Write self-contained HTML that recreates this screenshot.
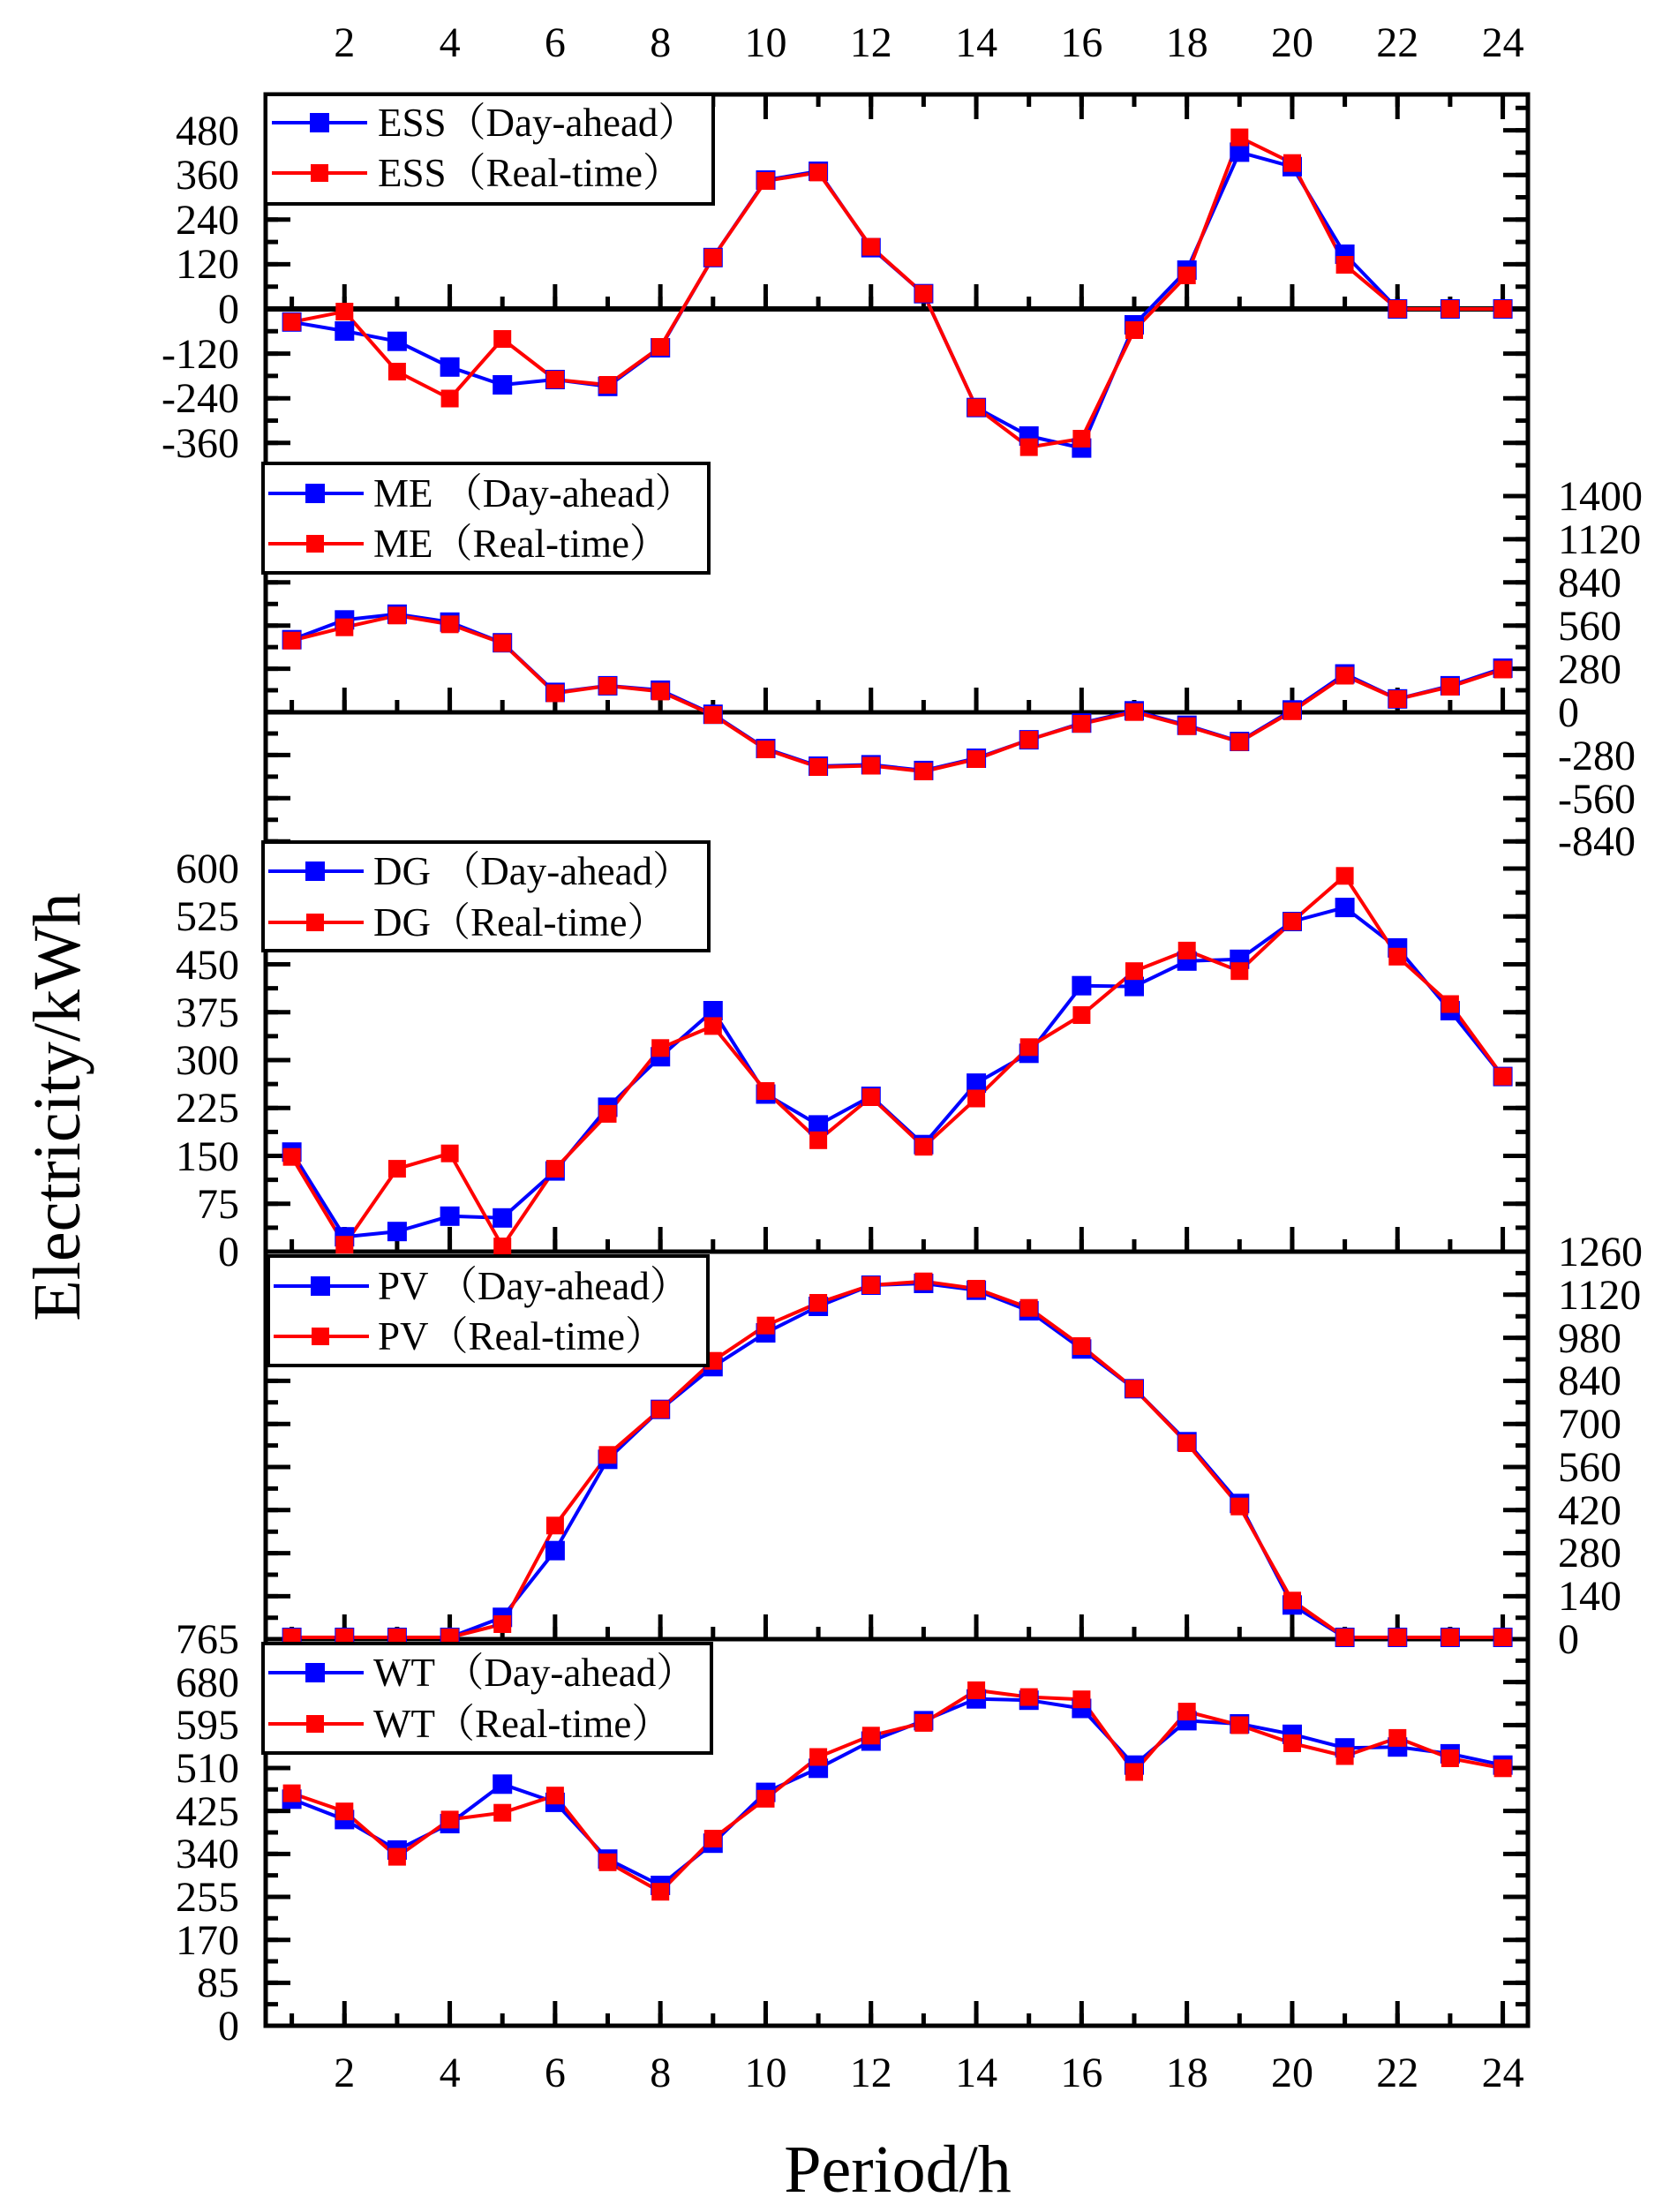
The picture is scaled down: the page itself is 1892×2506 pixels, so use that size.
<!DOCTYPE html>
<html><head><meta charset="utf-8"><style>
html,body{margin:0;padding:0;background:#fff;}
svg{display:block;}
text{font-family:"Liberation Serif","Noto Serif CJK SC",serif;fill:#000;}
</style></head><body>
<svg width="1892" height="2506" viewBox="0 0 1892 2506" xmlns="http://www.w3.org/2000/svg">
<defs>
<rect id="b" x="-11" y="-11" width="22" height="22" fill="#0000ff"/>
<rect id="r" x="-10" y="-10" width="20" height="20" fill="#ff0000"/>
</defs>
<rect x="0" y="0" width="1892" height="2506" fill="#fff"/>

<!-- y ticks left (x=301) and right (x=1731) -->
<g stroke="#000" fill="none">
<!-- ESS -->
<line x1="308" y1="119.8" x2="308" y2="529.6" stroke-width="14" stroke-dasharray="5 20.3"/>
<line x1="315" y1="145.1" x2="315" y2="504.3" stroke-width="28" stroke-dasharray="5 45.6"/>
<line x1="1724" y1="119.8" x2="1724" y2="529.6" stroke-width="14" stroke-dasharray="5 20.3"/>
<line x1="1717" y1="145.1" x2="1717" y2="504.3" stroke-width="28" stroke-dasharray="5 45.6"/>
<!-- ME -->
<line x1="308" y1="559.5" x2="308" y2="955.9" stroke-width="14" stroke-dasharray="5 19.45"/>
<line x1="315" y1="559.5" x2="315" y2="955.9" stroke-width="28" stroke-dasharray="5 43.9"/>
<line x1="1724" y1="559.5" x2="1724" y2="955.9" stroke-width="14" stroke-dasharray="5 19.45"/>
<line x1="1717" y1="559.5" x2="1717" y2="955.9" stroke-width="28" stroke-dasharray="5 43.9"/>
<!-- DG -->
<line x1="308" y1="981.5" x2="308" y2="1420.5" stroke-width="14" stroke-dasharray="5 22.125"/>
<line x1="315" y1="981.5" x2="315" y2="1420.5" stroke-width="28" stroke-dasharray="5 49.25"/>
<line x1="1724" y1="981.5" x2="1724" y2="1420.5" stroke-width="14" stroke-dasharray="5 22.125"/>
<line x1="1717" y1="981.5" x2="1717" y2="1420.5" stroke-width="28" stroke-dasharray="5 49.25"/>
<!-- PV -->
<line x1="308" y1="1415.5" x2="308" y2="1859.5" stroke-width="14" stroke-dasharray="5 19.4"/>
<line x1="315" y1="1415.5" x2="315" y2="1859.5" stroke-width="28" stroke-dasharray="5 43.8"/>
<line x1="1724" y1="1415.5" x2="1724" y2="1859.5" stroke-width="14" stroke-dasharray="5 19.4"/>
<line x1="1717" y1="1415.5" x2="1717" y2="1859.5" stroke-width="28" stroke-dasharray="5 43.8"/>
<!-- WT -->
<line x1="308" y1="1854.5" x2="308" y2="2297.5" stroke-width="14" stroke-dasharray="5 19.33"/>
<line x1="315" y1="1854.5" x2="315" y2="2297.5" stroke-width="28" stroke-dasharray="5 43.67"/>
<line x1="1724" y1="1854.5" x2="1724" y2="2297.5" stroke-width="14" stroke-dasharray="5 19.33"/>
<line x1="1717" y1="1854.5" x2="1717" y2="2297.5" stroke-width="28" stroke-dasharray="5 43.67"/>

<!-- x ticks -->
<line x1="328.1" y1="114" x2="1706" y2="114" stroke-width="14" stroke-dasharray="5 54.65"/>
<line x1="387.75" y1="121" x2="1706" y2="121" stroke-width="28" stroke-dasharray="5 114.3"/>
<line x1="328.1" y1="343" x2="1706" y2="343" stroke-width="14" stroke-dasharray="5 54.65"/>
<line x1="387.75" y1="336" x2="1706" y2="336" stroke-width="28" stroke-dasharray="5 114.3"/>
<line x1="328.1" y1="800" x2="1706" y2="800" stroke-width="14" stroke-dasharray="5 54.65"/>
<line x1="387.75" y1="793" x2="1706" y2="793" stroke-width="28" stroke-dasharray="5 114.3"/>
<line x1="328.1" y1="1411" x2="1706" y2="1411" stroke-width="14" stroke-dasharray="5 54.65"/>
<line x1="387.75" y1="1404" x2="1706" y2="1404" stroke-width="28" stroke-dasharray="5 114.3"/>
<line x1="328.1" y1="1850" x2="1706" y2="1850" stroke-width="14" stroke-dasharray="5 54.65"/>
<line x1="387.75" y1="1843" x2="1706" y2="1843" stroke-width="28" stroke-dasharray="5 114.3"/>
<line x1="328.1" y1="2288" x2="1706" y2="2288" stroke-width="14" stroke-dasharray="5 54.65"/>
<line x1="387.75" y1="2281" x2="1706" y2="2281" stroke-width="28" stroke-dasharray="5 114.3"/>

<!-- frame & axis lines -->
<rect x="301" y="107" width="1430" height="2188" stroke-width="5"/>
<line x1="301" y1="350" x2="1731" y2="350" stroke-width="6"/>
<line x1="301" y1="807" x2="1731" y2="807" stroke-width="5"/>
<line x1="301" y1="1418" x2="1731" y2="1418" stroke-width="5"/>
<line x1="301" y1="1857" x2="1731" y2="1857" stroke-width="5"/>
</g>

<!-- series -->
<g fill="none" stroke-width="4" stroke-linejoin="round">
<!-- ESS -->
<polyline stroke="#0000ff" points="330.6,364.8 390.3,375 449.9,386.7 509.6,415.8 569.2,436 628.9,430 688.5,437.8 748.2,394 807.8,291.8 867.5,204 927.1,194 986.8,280.6 1046.4,332.7 1106.1,461.7 1165.7,494 1225.4,507.6 1285,368 1344.7,306 1404.3,172.4 1464,188.8 1523.6,288 1583.3,350 1642.9,350 1702.6,350"/>
<polyline stroke="#ff0000" points="330.6,364.8 390.3,353 449.9,421 509.6,451.5 569.2,384 628.9,430 688.5,436 748.2,393 807.8,291.8 867.5,205 927.1,195.4 986.8,279.6 1046.4,332.7 1106.1,461.7 1165.7,506.6 1225.4,497 1285,374 1344.7,312 1404.3,155.6 1464,184.7 1523.6,300 1583.3,350 1642.9,350 1702.6,350"/>
<!-- ME -->
<polyline stroke="#0000ff" points="330.6,724.7 390.3,702.3 449.9,695.8 509.6,704.8 569.2,728.2 628.9,784.4 688.5,776.9 748.2,781.9 807.8,809.2 867.5,848 927.1,868 986.8,866.4 1046.4,872.9 1106.1,859 1165.7,838.1 1225.4,819.2 1285,805.3 1344.7,821.7 1404.3,840 1464,804.3 1523.6,763.5 1583.3,791.8 1642.9,776.9 1702.6,757"/>
<polyline stroke="#ff0000" points="330.6,725.7 390.3,710.7 449.9,697.3 509.6,707.3 569.2,728.6 628.9,785.4 688.5,777 748.2,783.4 807.8,810 867.5,849 927.1,869 986.8,867.5 1046.4,874 1106.1,860 1165.7,838.1 1225.4,820 1285,806.7 1344.7,822.7 1404.3,840.6 1464,805.8 1523.6,765.5 1583.3,792 1642.9,778 1702.6,758.5"/>
<!-- DG -->
<polyline stroke="#0000ff" points="330.6,1305.2 390.3,1401.2 449.9,1395.2 509.6,1377.8 569.2,1379.8 628.9,1326.6 688.5,1254.4 748.2,1197.2 807.8,1145 867.5,1239.5 927.1,1274.4 986.8,1242 1046.4,1296.7 1106.1,1227.1 1165.7,1193.3 1225.4,1116.7 1285,1117.6 1344.7,1088.8 1404.3,1086.8 1464,1044 1523.6,1028.1 1583.3,1073.9 1642.9,1145 1702.6,1219.6"/>
<polyline stroke="#ff0000" points="330.6,1310.7 390.3,1410.2 449.9,1324.1 509.6,1306.7 569.2,1412.1 628.9,1324.1 688.5,1261.9 748.2,1187.3 807.8,1162.4 867.5,1236 927.1,1291.8 986.8,1243 1046.4,1299.2 1106.1,1244.5 1165.7,1186.3 1225.4,1150 1285,1100.2 1344.7,1076.9 1404.3,1100.2 1464,1044 1523.6,992.3 1583.3,1083.8 1642.9,1137.5 1702.6,1219.6"/>
<!-- PV -->
<polyline stroke="#0000ff" points="330.6,1855 390.3,1855 449.9,1855 509.6,1855 569.2,1832.3 628.9,1756.7 688.5,1653.3 748.2,1596.7 807.8,1548.3 867.5,1510 927.1,1480 986.8,1456 1046.4,1454 1106.1,1461.7 1165.7,1485 1225.4,1528.3 1285,1573.3 1344.7,1633.3 1404.3,1703.3 1464,1818.3 1523.6,1855 1583.3,1855 1642.9,1855 1702.6,1855"/>
<polyline stroke="#ff0000" points="330.6,1855 390.3,1855 449.9,1855 509.6,1855 569.2,1840 628.9,1728.3 688.5,1648.3 748.2,1596.7 807.8,1541.7 867.5,1501.7 927.1,1476 986.8,1456 1046.4,1451.7 1106.1,1460 1165.7,1481.7 1225.4,1525 1285,1573.3 1344.7,1635 1404.3,1706.7 1464,1813.3 1523.6,1855 1583.3,1855 1642.9,1855 1702.6,1855"/>
<!-- WT -->
<polyline stroke="#0000ff" points="330.6,2038.3 390.3,2061.4 449.9,2095.9 509.6,2066 569.2,2021.3 628.9,2041.9 688.5,2106.2 748.2,2136 807.8,2088.2 867.5,2030.6 927.1,2003.3 986.8,1972.5 1046.4,1949.4 1106.1,1924.7 1165.7,1926.2 1225.4,1935.5 1285,1999.7 1344.7,1949.4 1404.3,1953 1464,1964.8 1523.6,1980.2 1583.3,1979.2 1642.9,1986.9 1702.6,1999.7"/>
<polyline stroke="#ff0000" points="330.6,2031.6 390.3,2052.2 449.9,2103.6 509.6,2061.4 569.2,2053.7 628.9,2034.2 688.5,2109.8 748.2,2143.2 807.8,2083 867.5,2037.8 927.1,1990.5 986.8,1966.3 1046.4,1951.9 1106.1,1914.9 1165.7,1922.6 1225.4,1925.2 1285,2007.5 1344.7,1939.1 1404.3,1954.5 1464,1975 1523.6,1989.5 1583.3,1968.9 1642.9,1992 1702.6,2003.3"/>
</g>

<!-- markers blue -->
<g>
<use href="#b" x="330.6" y="364.8"/><use href="#b" x="390.3" y="375"/><use href="#b" x="449.9" y="386.7"/><use href="#b" x="509.6" y="415.8"/><use href="#b" x="569.2" y="436"/><use href="#b" x="628.9" y="430"/><use href="#b" x="688.5" y="437.8"/><use href="#b" x="748.2" y="394"/><use href="#b" x="807.8" y="291.8"/><use href="#b" x="867.5" y="204"/><use href="#b" x="927.1" y="194"/><use href="#b" x="986.8" y="280.6"/><use href="#b" x="1046.4" y="332.7"/><use href="#b" x="1106.1" y="461.7"/><use href="#b" x="1165.7" y="494"/><use href="#b" x="1225.4" y="507.6"/><use href="#b" x="1285" y="368"/><use href="#b" x="1344.7" y="306"/><use href="#b" x="1404.3" y="172.4"/><use href="#b" x="1464" y="188.8"/><use href="#b" x="1523.6" y="288"/><use href="#b" x="1583.3" y="350"/><use href="#b" x="1642.9" y="350"/><use href="#b" x="1702.6" y="350"/>

<use href="#b" x="330.6" y="724.7"/><use href="#b" x="390.3" y="702.3"/><use href="#b" x="449.9" y="695.8"/><use href="#b" x="509.6" y="704.8"/><use href="#b" x="569.2" y="728.2"/><use href="#b" x="628.9" y="784.4"/><use href="#b" x="688.5" y="776.9"/><use href="#b" x="748.2" y="781.9"/><use href="#b" x="807.8" y="809.2"/><use href="#b" x="867.5" y="848"/><use href="#b" x="927.1" y="868"/><use href="#b" x="986.8" y="866.4"/><use href="#b" x="1046.4" y="872.9"/><use href="#b" x="1106.1" y="859"/><use href="#b" x="1165.7" y="838.1"/><use href="#b" x="1225.4" y="819.2"/><use href="#b" x="1285" y="805.3"/><use href="#b" x="1344.7" y="821.7"/><use href="#b" x="1404.3" y="840"/><use href="#b" x="1464" y="804.3"/><use href="#b" x="1523.6" y="763.5"/><use href="#b" x="1583.3" y="791.8"/><use href="#b" x="1642.9" y="776.9"/><use href="#b" x="1702.6" y="757"/>

<use href="#b" x="330.6" y="1305.2"/><use href="#b" x="390.3" y="1401.2"/><use href="#b" x="449.9" y="1395.2"/><use href="#b" x="509.6" y="1377.8"/><use href="#b" x="569.2" y="1379.8"/><use href="#b" x="628.9" y="1326.6"/><use href="#b" x="688.5" y="1254.4"/><use href="#b" x="748.2" y="1197.2"/><use href="#b" x="807.8" y="1145"/><use href="#b" x="867.5" y="1239.5"/><use href="#b" x="927.1" y="1274.4"/><use href="#b" x="986.8" y="1242"/><use href="#b" x="1046.4" y="1296.7"/><use href="#b" x="1106.1" y="1227.1"/><use href="#b" x="1165.7" y="1193.3"/><use href="#b" x="1225.4" y="1116.7"/><use href="#b" x="1285" y="1117.6"/><use href="#b" x="1344.7" y="1088.8"/><use href="#b" x="1404.3" y="1086.8"/><use href="#b" x="1464" y="1044"/><use href="#b" x="1523.6" y="1028.1"/><use href="#b" x="1583.3" y="1073.9"/><use href="#b" x="1642.9" y="1145"/><use href="#b" x="1702.6" y="1219.6"/>

<use href="#b" x="330.6" y="1855"/><use href="#b" x="390.3" y="1855"/><use href="#b" x="449.9" y="1855"/><use href="#b" x="509.6" y="1855"/><use href="#b" x="569.2" y="1832.3"/><use href="#b" x="628.9" y="1756.7"/><use href="#b" x="688.5" y="1653.3"/><use href="#b" x="748.2" y="1596.7"/><use href="#b" x="807.8" y="1548.3"/><use href="#b" x="867.5" y="1510"/><use href="#b" x="927.1" y="1480"/><use href="#b" x="986.8" y="1456"/><use href="#b" x="1046.4" y="1454"/><use href="#b" x="1106.1" y="1461.7"/><use href="#b" x="1165.7" y="1485"/><use href="#b" x="1225.4" y="1528.3"/><use href="#b" x="1285" y="1573.3"/><use href="#b" x="1344.7" y="1633.3"/><use href="#b" x="1404.3" y="1703.3"/><use href="#b" x="1464" y="1818.3"/><use href="#b" x="1523.6" y="1855"/><use href="#b" x="1583.3" y="1855"/><use href="#b" x="1642.9" y="1855"/><use href="#b" x="1702.6" y="1855"/>

<use href="#b" x="330.6" y="2038.3"/><use href="#b" x="390.3" y="2061.4"/><use href="#b" x="449.9" y="2095.9"/><use href="#b" x="509.6" y="2066"/><use href="#b" x="569.2" y="2021.3"/><use href="#b" x="628.9" y="2041.9"/><use href="#b" x="688.5" y="2106.2"/><use href="#b" x="748.2" y="2136"/><use href="#b" x="807.8" y="2088.2"/><use href="#b" x="867.5" y="2030.6"/><use href="#b" x="927.1" y="2003.3"/><use href="#b" x="986.8" y="1972.5"/><use href="#b" x="1046.4" y="1949.4"/><use href="#b" x="1106.1" y="1924.7"/><use href="#b" x="1165.7" y="1926.2"/><use href="#b" x="1225.4" y="1935.5"/><use href="#b" x="1285" y="1999.7"/><use href="#b" x="1344.7" y="1949.4"/><use href="#b" x="1404.3" y="1953"/><use href="#b" x="1464" y="1964.8"/><use href="#b" x="1523.6" y="1980.2"/><use href="#b" x="1583.3" y="1979.2"/><use href="#b" x="1642.9" y="1986.9"/><use href="#b" x="1702.6" y="1999.7"/>
</g>
<!-- markers red -->
<g>
<use href="#r" x="330.6" y="364.8"/><use href="#r" x="390.3" y="353"/><use href="#r" x="449.9" y="421"/><use href="#r" x="509.6" y="451.5"/><use href="#r" x="569.2" y="384"/><use href="#r" x="628.9" y="430"/><use href="#r" x="688.5" y="436"/><use href="#r" x="748.2" y="393"/><use href="#r" x="807.8" y="291.8"/><use href="#r" x="867.5" y="205"/><use href="#r" x="927.1" y="195.4"/><use href="#r" x="986.8" y="279.6"/><use href="#r" x="1046.4" y="332.7"/><use href="#r" x="1106.1" y="461.7"/><use href="#r" x="1165.7" y="506.6"/><use href="#r" x="1225.4" y="497"/><use href="#r" x="1285" y="374"/><use href="#r" x="1344.7" y="312"/><use href="#r" x="1404.3" y="155.6"/><use href="#r" x="1464" y="184.7"/><use href="#r" x="1523.6" y="300"/><use href="#r" x="1583.3" y="350"/><use href="#r" x="1642.9" y="350"/><use href="#r" x="1702.6" y="350"/>

<use href="#r" x="330.6" y="725.7"/><use href="#r" x="390.3" y="710.7"/><use href="#r" x="449.9" y="697.3"/><use href="#r" x="509.6" y="707.3"/><use href="#r" x="569.2" y="728.6"/><use href="#r" x="628.9" y="785.4"/><use href="#r" x="688.5" y="777"/><use href="#r" x="748.2" y="783.4"/><use href="#r" x="807.8" y="810"/><use href="#r" x="867.5" y="849"/><use href="#r" x="927.1" y="869"/><use href="#r" x="986.8" y="867.5"/><use href="#r" x="1046.4" y="874"/><use href="#r" x="1106.1" y="860"/><use href="#r" x="1165.7" y="838.1"/><use href="#r" x="1225.4" y="820"/><use href="#r" x="1285" y="806.7"/><use href="#r" x="1344.7" y="822.7"/><use href="#r" x="1404.3" y="840.6"/><use href="#r" x="1464" y="805.8"/><use href="#r" x="1523.6" y="765.5"/><use href="#r" x="1583.3" y="792"/><use href="#r" x="1642.9" y="778"/><use href="#r" x="1702.6" y="758.5"/>

<use href="#r" x="330.6" y="1310.7"/><use href="#r" x="390.3" y="1410.2"/><use href="#r" x="449.9" y="1324.1"/><use href="#r" x="509.6" y="1306.7"/><use href="#r" x="569.2" y="1412.1"/><use href="#r" x="628.9" y="1324.1"/><use href="#r" x="688.5" y="1261.9"/><use href="#r" x="748.2" y="1187.3"/><use href="#r" x="807.8" y="1162.4"/><use href="#r" x="867.5" y="1236"/><use href="#r" x="927.1" y="1291.8"/><use href="#r" x="986.8" y="1243"/><use href="#r" x="1046.4" y="1299.2"/><use href="#r" x="1106.1" y="1244.5"/><use href="#r" x="1165.7" y="1186.3"/><use href="#r" x="1225.4" y="1150"/><use href="#r" x="1285" y="1100.2"/><use href="#r" x="1344.7" y="1076.9"/><use href="#r" x="1404.3" y="1100.2"/><use href="#r" x="1464" y="1044"/><use href="#r" x="1523.6" y="992.3"/><use href="#r" x="1583.3" y="1083.8"/><use href="#r" x="1642.9" y="1137.5"/><use href="#r" x="1702.6" y="1219.6"/>

<use href="#r" x="330.6" y="1855"/><use href="#r" x="390.3" y="1855"/><use href="#r" x="449.9" y="1855"/><use href="#r" x="509.6" y="1855"/><use href="#r" x="569.2" y="1840"/><use href="#r" x="628.9" y="1728.3"/><use href="#r" x="688.5" y="1648.3"/><use href="#r" x="748.2" y="1596.7"/><use href="#r" x="807.8" y="1541.7"/><use href="#r" x="867.5" y="1501.7"/><use href="#r" x="927.1" y="1476"/><use href="#r" x="986.8" y="1456"/><use href="#r" x="1046.4" y="1451.7"/><use href="#r" x="1106.1" y="1460"/><use href="#r" x="1165.7" y="1481.7"/><use href="#r" x="1225.4" y="1525"/><use href="#r" x="1285" y="1573.3"/><use href="#r" x="1344.7" y="1635"/><use href="#r" x="1404.3" y="1706.7"/><use href="#r" x="1464" y="1813.3"/><use href="#r" x="1523.6" y="1855"/><use href="#r" x="1583.3" y="1855"/><use href="#r" x="1642.9" y="1855"/><use href="#r" x="1702.6" y="1855"/>

<use href="#r" x="330.6" y="2031.6"/><use href="#r" x="390.3" y="2052.2"/><use href="#r" x="449.9" y="2103.6"/><use href="#r" x="509.6" y="2061.4"/><use href="#r" x="569.2" y="2053.7"/><use href="#r" x="628.9" y="2034.2"/><use href="#r" x="688.5" y="2109.8"/><use href="#r" x="748.2" y="2143.2"/><use href="#r" x="807.8" y="2083"/><use href="#r" x="867.5" y="2037.8"/><use href="#r" x="927.1" y="1990.5"/><use href="#r" x="986.8" y="1966.3"/><use href="#r" x="1046.4" y="1951.9"/><use href="#r" x="1106.1" y="1914.9"/><use href="#r" x="1165.7" y="1922.6"/><use href="#r" x="1225.4" y="1925.2"/><use href="#r" x="1285" y="2007.5"/><use href="#r" x="1344.7" y="1939.1"/><use href="#r" x="1404.3" y="1954.5"/><use href="#r" x="1464" y="1975"/><use href="#r" x="1523.6" y="1989.5"/><use href="#r" x="1583.3" y="1968.9"/><use href="#r" x="1642.9" y="1992"/><use href="#r" x="1702.6" y="2003.3"/>
</g>

<!-- legends -->
<g stroke="#000" stroke-width="4" fill="#fff">
<rect x="301" y="107" width="507" height="124"/>
<rect x="298" y="525" width="505" height="124"/>
<rect x="298" y="954" width="505" height="123"/>
<rect x="304" y="1423" width="498" height="124"/>
<rect x="298" y="1862" width="508" height="124"/>
</g>
<g stroke-width="4">
<line x1="308" y1="139" x2="416" y2="139" stroke="#0000ff"/><use href="#b" x="362" y="139"/>
<line x1="308" y1="196" x2="416" y2="196" stroke="#ff0000"/><use href="#r" x="362" y="196"/>
<line x1="304" y1="559" x2="412" y2="559" stroke="#0000ff"/><use href="#b" x="357" y="559"/>
<line x1="304" y1="616" x2="412" y2="616" stroke="#ff0000"/><use href="#r" x="357" y="616"/>
<line x1="304" y1="987" x2="412" y2="987" stroke="#0000ff"/><use href="#b" x="357" y="987"/>
<line x1="304" y1="1045" x2="412" y2="1045" stroke="#ff0000"/><use href="#r" x="357" y="1045"/>
<line x1="310" y1="1457" x2="418" y2="1457" stroke="#0000ff"/><use href="#b" x="363" y="1457"/>
<line x1="310" y1="1514" x2="418" y2="1514" stroke="#ff0000"/><use href="#r" x="363" y="1514"/>
<line x1="304" y1="1895" x2="412" y2="1895" stroke="#0000ff"/><use href="#b" x="357" y="1895"/>
<line x1="304" y1="1953" x2="412" y2="1953" stroke="#ff0000"/><use href="#r" x="357" y="1953"/>
</g>
<g font-size="45">
<text x="428" y="154">ESS（Day-ahead）</text>
<text x="428" y="211">ESS（Real-time）</text>
<text x="423" y="574">ME （Day-ahead）</text>
<text x="423" y="631">ME（Real-time）</text>
<text x="423" y="1002">DG （Day-ahead）</text>
<text x="423" y="1060">DG（Real-time）</text>
<text x="428" y="1472">PV （Day-ahead）</text>
<text x="428" y="1529">PV（Real-time）</text>
<text x="423" y="1910">WT （Day-ahead）</text>
<text x="423" y="1968">WT（Real-time）</text>
</g>

<!-- left tick labels -->
<g font-size="48" text-anchor="end">
<text x="271" y="164">480</text><text x="271" y="214">360</text><text x="271" y="265">240</text><text x="271" y="315">120</text><text x="271" y="366">0</text><text x="271" y="417">-120</text><text x="271" y="467">-240</text><text x="271" y="518">-360</text>
<text x="271" y="1000">600</text><text x="271" y="1054">525</text><text x="271" y="1109">450</text><text x="271" y="1163">375</text><text x="271" y="1217">300</text><text x="271" y="1271">225</text><text x="271" y="1326">150</text><text x="271" y="1380">75</text><text x="271" y="1434">0</text>
<text x="271" y="1873">765</text><text x="271" y="1922">680</text><text x="271" y="1970">595</text><text x="271" y="2019">510</text><text x="271" y="2068">425</text><text x="271" y="2116">340</text><text x="271" y="2165">255</text><text x="271" y="2214">170</text><text x="271" y="2262">85</text><text x="271" y="2311">0</text>
</g>
<!-- right tick labels -->
<g font-size="48">
<text x="1765" y="578">1400</text><text x="1765" y="627">1120</text><text x="1765" y="676">840</text><text x="1765" y="725">560</text><text x="1765" y="774">280</text><text x="1765" y="823">0</text><text x="1765" y="872">-280</text><text x="1765" y="921">-560</text><text x="1765" y="969">-840</text>
<text x="1765" y="1434">1260</text><text x="1765" y="1483">1120</text><text x="1765" y="1532">980</text><text x="1765" y="1580">840</text><text x="1765" y="1629">700</text><text x="1765" y="1678">560</text><text x="1765" y="1727">420</text><text x="1765" y="1775">280</text><text x="1765" y="1824">140</text><text x="1765" y="1873">0</text>
</g>
<!-- x labels -->
<g font-size="48" text-anchor="middle">
<text x="390.3" y="64">2</text><text x="509.6" y="64">4</text><text x="628.9" y="64">6</text><text x="748.2" y="64">8</text><text x="867.5" y="64">10</text><text x="986.8" y="64">12</text><text x="1106.1" y="64">14</text><text x="1225.4" y="64">16</text><text x="1344.7" y="64">18</text><text x="1464" y="64">20</text><text x="1583.3" y="64">22</text><text x="1702.6" y="64">24</text>
<text x="390.3" y="2364">2</text><text x="509.6" y="2364">4</text><text x="628.9" y="2364">6</text><text x="748.2" y="2364">8</text><text x="867.5" y="2364">10</text><text x="986.8" y="2364">12</text><text x="1106.1" y="2364">14</text><text x="1225.4" y="2364">16</text><text x="1344.7" y="2364">18</text><text x="1464" y="2364">20</text><text x="1583.3" y="2364">22</text><text x="1702.6" y="2364">24</text>
</g>
<text x="1017" y="2483" font-size="76" text-anchor="middle">Period/h</text>
<text transform="translate(90,1254) rotate(-90)" font-size="76" text-anchor="middle">Electricity/kWh</text>
</svg>
</body></html>
